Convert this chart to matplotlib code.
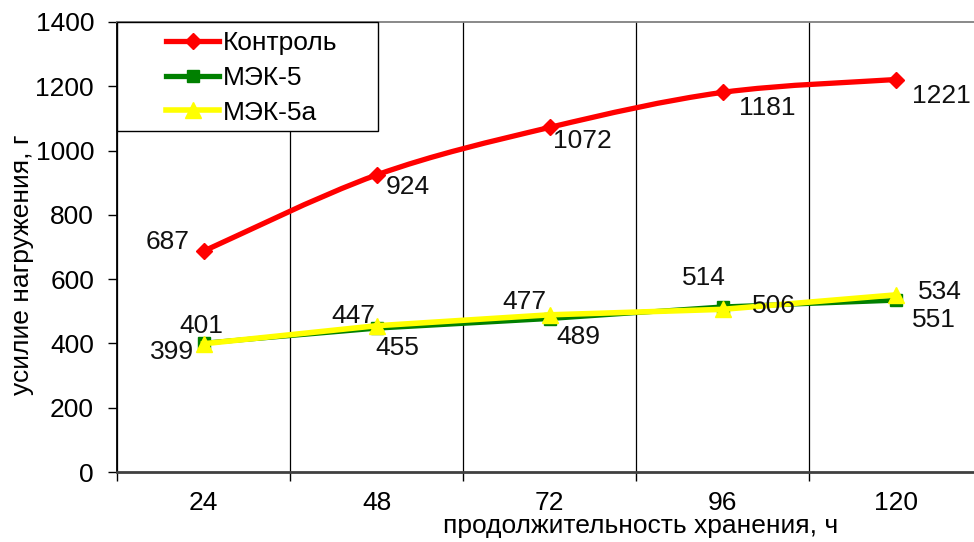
import numpy as np
import matplotlib.pyplot as plt
from matplotlib.path import Path
from matplotlib.patches import PathPatch, Rectangle
from matplotlib.lines import Line2D

plt.rcParams['font.family'] = ['Liberation Sans', 'DejaVu Sans']

hours = ['24', '48', '72', '96', '120']
control = [687, 924, 1072, 1181, 1221]
mek5 = [401, 447, 477, 514, 534]
mek5a = [399, 455, 489, 506, 551]

# label offsets in pixels (dx, dy)
off_control = [(-36, 9), (31, -12), (33, -14), (45, -16), (46, -16)]
off_mek5 = [(-2, 17), (-23, 12), (-25, 17), (-19, 29), (44, 8)]
off_mek5a = [(-31, -8), (21, -22), (29, -22), (51, 3), (38, -25)]

fs = 19
W, H = 974, 542
fig = plt.figure(figsize=(W / 100, H / 100), dpi=100)
ax = fig.add_axes([117 / W, 1 - 472 / H, (982 - 117) / W, 450 / H])

x = np.arange(1, len(hours) + 1)


def smooth_path(xs, ys):
    # Excel-like smoothed line: cubic bezier segments through the points
    pts = np.column_stack([xs, ys]).astype(float)
    ext = np.vstack([pts[0], pts, pts[-1]])
    verts = [tuple(pts[0])]
    codes = [Path.MOVETO]
    for i in range(len(pts) - 1):
        p0, p1, p2, p3 = ext[i], ext[i + 1], ext[i + 2], ext[i + 3]
        c1 = p1 + (p2 - p0) / 6
        c2 = p2 - (p3 - p1) / 6
        verts += [tuple(c1), tuple(c2), tuple(p2)]
        codes += [Path.CURVE4] * 3
    return Path(verts, codes)


ax.plot(x, mek5, color='#008000', lw=3.5, marker='s', ms=9, zorder=3)
ax.plot(x, mek5a, color='#ffff00', lw=4, marker='^', ms=11, zorder=4)
ax.add_patch(PathPatch(smooth_path(x, control), fill=False, edgecolor='#ff0000',
                       lw=3.8, zorder=5, capstyle='round'))
ax.plot(x, control, ls='none', color='#ff0000', marker='D', ms=8, zorder=6)

for vals, offs in [(control, off_control), (mek5, off_mek5), (mek5a, off_mek5a)]:
    for xi, v, (dx, dy) in zip(x, vals, offs):
        ax.annotate(str(v), (xi, v), xytext=(dx, dy), textcoords='offset pixels',
                    ha='center', va='center', fontsize=fs, color='#111111', zorder=7)

ax.set_xlim(0.5, 5.5)
ax.set_ylim(0, 1400)
ax.set_yticks(range(0, 1401, 200))
ax.set_xticks(x)
ax.set_xticklabels(hours)
ax.set_xticks(np.arange(0.5, 5.6, 1), minor=True)
ax.tick_params(axis='x', which='major', length=0, pad=14, labelsize=fs)
ax.tick_params(axis='x', which='minor', length=6.5, width=1, color='black')
ax.tick_params(axis='y', length=6.5, width=1, pad=10, labelsize=fs)
ax.grid(True, axis='x', which='minor', color='black', lw=0.9)

ax.spines['left'].set_linewidth(1.3)
ax.spines['bottom'].set_color('#404040')
ax.spines['bottom'].set_linewidth(2)
ax.spines['top'].set_color('#808080')
ax.spines['top'].set_linewidth(1.3)

fig.text(22 / W, 1 - 265 / H, 'усилие нагружения, г', rotation=90,
         ha='center', va='center', fontsize=fs)
fig.text(641 / W, 1 - 526 / H, 'продолжительность хранения, ч',
         ha='center', va='center', fontsize=fs)

# legend box
fig.patches.append(Rectangle((117 / W, 1 - 131 / H), 261 / W, 109 / H,
                             transform=fig.transFigure, facecolor='white',
                             edgecolor='black', lw=1, zorder=1))
handles = [
    Line2D([], [], color='#ff0000', lw=3.8, marker='D', ms=8),
    Line2D([], [], color='#008000', lw=3.8, marker='s', ms=9),
    Line2D([], [], color='#ffff00', lw=4, marker='^', ms=11),
]
fig.legend(handles, ['Контроль', 'МЭК-5', 'МЭК-5а'], loc='center left',
           bbox_to_anchor=(153 / W, 1 - 78 / H), frameon=False, fontsize=fs,
           borderpad=0, handlelength=2.0, handletextpad=0.15, labelspacing=0.4)

fig.savefig('out.png', dpi=100)
